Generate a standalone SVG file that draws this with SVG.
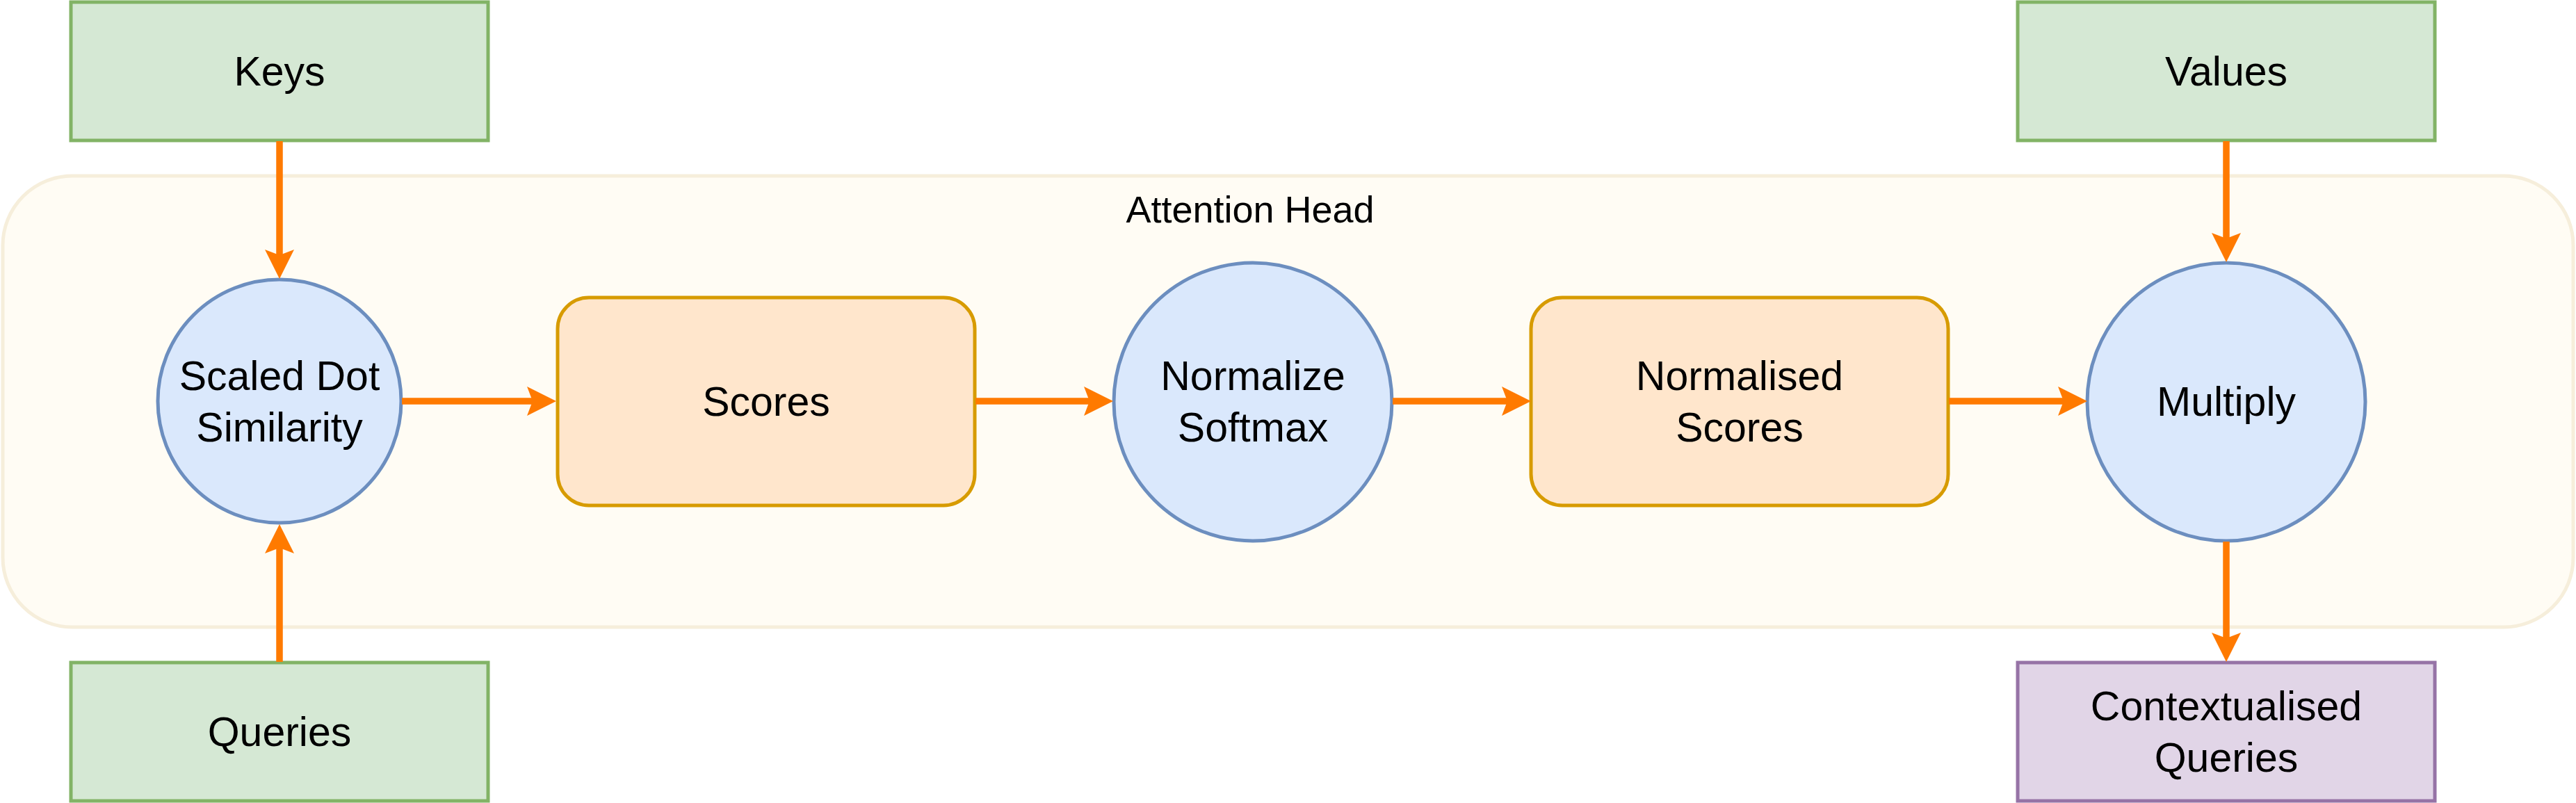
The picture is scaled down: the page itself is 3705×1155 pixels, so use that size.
<svg xmlns="http://www.w3.org/2000/svg" width="3705" height="1155" viewBox="0 0 3705 1155">
  <defs>
    <style>
      .lbl { font-family: "Liberation Sans", Arial, sans-serif; font-size: 59px; fill: #000000; text-anchor: middle; }
      .title { font-family: "Liberation Sans", Arial, sans-serif; font-size: 54px; fill: #000000; text-anchor: middle; }
      .input { fill: #d5e8d4; stroke: #82b366; stroke-width: 5; }
      .output { fill: #e1d5e7; stroke: #9673a6; stroke-width: 5; }
      .op { fill: #dae8fc; stroke: #6c8ebf; stroke-width: 5; }
      .data { fill: #ffe6cc; stroke: #d79b00; stroke-width: 5; }
      .container { fill: #fffcf4; stroke: #f6eedb; stroke-width: 5; }
      .edge { fill: none; stroke: #ff7a00; stroke-width: 9.5; marker-end: url(#arrow); }
    </style>
    <marker id="arrow" markerUnits="userSpaceOnUse" viewBox="0 0 42 42" markerWidth="42" markerHeight="42" refX="14" refY="21" orient="auto">
      <path d="M0,0 L42,21 L0,42 L8,21 Z" fill="#ff7a00"/>
    </marker>
  </defs>

  <g id="attention-head">
    <rect class="container" x="4" y="253" width="3697" height="649" rx="100" ry="100"/>
    <text class="title" x="1798" y="320">Attention Head</text>
  </g>

  <g id="keys">
    <rect class="input" x="102" y="3" width="600" height="199"/>
    <text class="lbl" x="402" y="123">Keys</text>
  </g>

  <g id="queries">
    <rect class="input" x="102" y="953" width="600" height="199"/>
    <text class="lbl" x="402" y="1073">Queries</text>
  </g>

  <g id="values">
    <rect class="input" x="2902" y="3" width="600" height="199"/>
    <text class="lbl" x="3202" y="123">Values</text>
  </g>

  <g id="contextualised-queries">
    <rect class="output" x="2902" y="953" width="600" height="199"/>
    <text class="lbl" x="3202" y="1036">Contextualised</text>
    <text class="lbl" x="3202" y="1110">Queries</text>
  </g>

  <g id="scaled-dot-similarity">
    <circle class="op" cx="402" cy="577" r="175"/>
    <text class="lbl" x="402" y="561">Scaled Dot</text>
    <text class="lbl" x="402" y="635">Similarity</text>
  </g>

  <g id="scores">
    <rect class="data" x="802" y="428" width="600" height="299" rx="45" ry="45"/>
    <text class="lbl" x="1102" y="598">Scores</text>
  </g>

  <g id="normalize-softmax">
    <circle class="op" cx="1802" cy="578" r="200"/>
    <text class="lbl" x="1802" y="561">Normalize</text>
    <text class="lbl" x="1802" y="635">Softmax</text>
  </g>

  <g id="normalised-scores">
    <rect class="data" x="2202" y="428" width="600" height="299" rx="45" ry="45"/>
    <text class="lbl" x="2502" y="561">Normalised</text>
    <text class="lbl" x="2502" y="635">Scores</text>
  </g>

  <g id="multiply">
    <circle class="op" cx="3202" cy="578" r="200"/>
    <text class="lbl" x="3202" y="598">Multiply</text>
  </g>

  <g id="connectors">
    <path class="edge" d="M402,203 L402,373"/>
    <path class="edge" d="M402,952 L402,782"/>
    <path class="edge" d="M578,577 L772,577"/>
    <path class="edge" d="M1403,577 L1573,577"/>
    <path class="edge" d="M2003,577 L2174,577"/>
    <path class="edge" d="M2803,577 L2974,577"/>
    <path class="edge" d="M3202,203 L3202,349"/>
    <path class="edge" d="M3202,779 L3202,924"/>
  </g>
</svg>
